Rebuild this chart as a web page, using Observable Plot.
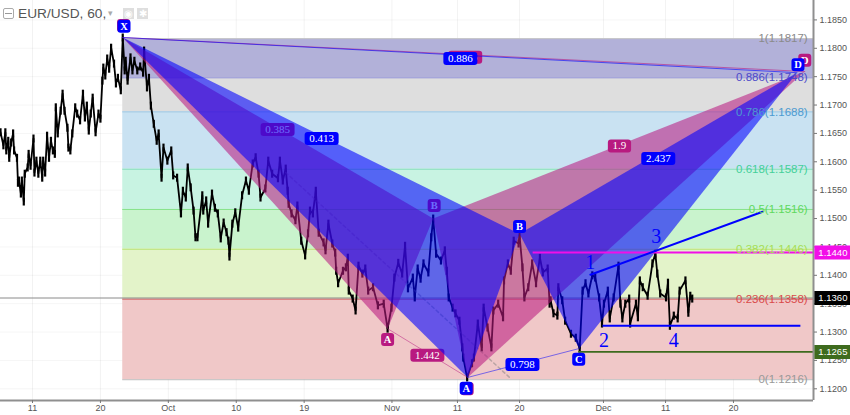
<!DOCTYPE html>
<html><head><meta charset="utf-8">
<script src="https://cdn.jsdelivr.net/npm/d3@7"></script>
<script src="https://cdn.jsdelivr.net/npm/@observablehq/plot@0.6"></script>
<style>
html,body{margin:0;padding:0;background:#fff;overflow:hidden}
#wrap{position:relative;width:850px;height:415px}
#chart svg{display:block}
#head{position:absolute;left:0;top:0;height:28px;width:160px;font:13.7px "Liberation Sans",sans-serif;color:#555}
#head span{position:absolute;white-space:nowrap}
.ic{background:#dedede;color:#fff;width:11px;height:11px;top:8px;font-size:10px;line-height:11px;text-align:center}
</style></head><body>
<div id="wrap"><div id="chart"></div>
<div id="head">
<span style="left:3px;top:8px;width:9px;height:9px;border:1px solid #aaa;border-radius:2px"></span>
<span style="left:5px;top:13px;width:7px;height:1px;background:#999"></span>
<span style="left:18px;top:6px">EUR/USD, 60,</span>
<span style="left:108px;top:8px;font-size:9px;color:#aaa">▾</span>
<span class="ic" style="left:123px">◉</span>
<span class="ic" style="left:137px">✱</span>
</div></div>
<script>
// x is counted in trading days from 11 Sep; y is EUR/USD.
const tickDays = [0, 7, 14, 21, 28, 37.05, 43.8, 50.2, 58.85, 65.25, 72.25];
const tickLabels = ["11", "20", "Oct", "10", "19", "Nov", "11", "20", "Dec", "11", "20"];
const priceTicks = [1.12,1.125,1.13,1.135,1.14,1.145,1.15,1.155,1.16,1.165,1.17,1.175,1.18,1.185];

const priceDays = [-3.3,-3,-2.8,-2.7,-2.5,-2.4,-2.2,-2,-1.9,-1.6,-1.5,-1.4,-1.2,-1.1,-.9,-.8,-.5,-.4,-.2,.1,.2,.4,.6,.8,1,1.1,1.3,1.5,1.7,1.9,2.1,2.3,2.4,2.6,2.9,3.1,3.3,3.6,3.7,3.9,4.1,4.4,4.6,4.9,5.2,5.4,5.6,5.8,6,6.2,6.5,6.8,7,7.2,7.3,7.5,7.7,7.9,8.1,8.4,8.6,8.8,9.1,9.3,9.5,9.6,9.8,10.1,10.3,10.5,10.8,11.1,11.4,11.5,11.8,12,12.2,12.5,12.8,13,13.3,13.5,13.9,14.3,14.5,14.9,15.3,15.5,15.8,16,16.3,16.6,16.8,17,17.5,17.6,17.9,18.1,18.5,18.8,19.1,19.4,19.7,20,20.2,20.3,20.6,20.9,21.2,21.6,22,22.3,22.7,23,23.3,23.5,24,24.3,24.7,25.3,25.5,25.8,26.1,26.3,26.4,26.7,27.1,27.3,27.7,28.1,28.4,28.6,28.9,29.2,29.5,30,30.2,30.5,30.9,31.2,31.3,31.5,32,32.3,32.5,32.6,33,33.3,33.6,34,34.3,34.6,35.1,35.6,36.2,36.6,37,37.3,37.7,38.1,38.4,38.7,39.2,39.4,39.7,40,40.3,40.8,41.1,41.3,41.6,42.1,42.5,42.7,42.9,43.3,43.6,44,44.3,44.4,44.8,45.3,45.5,45.9,46.3,46.5,46.9,47.3,47.5,48,48.5,48.6,49,49.3,49.6,50.1,50.2,50.5,50.7,51.1,51.5,51.9,52.3,52.6,53.1,53.3,53.4,53.7,54.1,54.2,54.6,54.9,55.5,56,56.4,56.7,57,57.3,57.7,58,58.4,58.7,58.9,59.3,59.5,59.9,60.4,60.6,60.8,61.1,61.5,61.6,62.2,62.4,62.6,62.9,63.4,63.9,64.2,64.4,64.7,65.3,65.5,65.7,66.1,66.5,66.7,67.3,67.6,67.8,68];
const pricePips = [11652,11629,11652,11620,11637,11607,11634,11650,11620,11607,11563,11567,11544,11567,11530,11579,11590,11614,11593,11641,11581,11602,11579,11602,11572,11602,11581,11646,11607,11637,11620,11614,11696,11650,11690,11720,11690,11660,11625,11620,11650,11696,11685,11673,11720,11678,11699,11655,11685,11713,11652,11685,11676,11743,11766,11752,11782,11764,11801,11773,11738,11748,11726,11819,11761,11778,11743,11784,11761,11778,11761,11768,11757,11796,11731,11748,11699,11667,11637,11650,11572,11625,11602,11620,11576,11572,11509,11549,11537,11590,11555,11514,11467,11467,11541,11514,11532,11491,11544,11519,11509,11465,11493,11476,11461,11433,11491,11511,11484,11541,11567,11549,11597,11608,11579,11537,11553,11602,11579,11571,11602,11567,11588,11549,11526,11509,11497,11523,11461,11435,11474,11514,11509,11549,11475,11458,11444,11491,11456,11440,11408,11386,11408,11414,11431,11373,11359,11338,11417,11403,11412,11373,11379,11347,11350,11306,11343,11396,11422,11403,11452,11377,11396,11361,11412,11394,11421,11405,11467,11500,11438,11426,11444,11408,11361,11343,11333,11320,11273,11255,11220,11245,11255,11315,11273,11343,11308,11273,11338,11350,11326,11391,11421,11408,11461,11456,11470,11414,11361,11379,11421,11386,11431,11405,11412,11350,11356,11333,11329,11379,11356,11320,11297,11290,11271,11373,11386,11368,11400,11396,11361,11315,11350,11373,11324,11361,11417,11350,11324,11350,11359,11315,11350,11326,11391,11379,11364,11421,11438,11403,11368,11361,11387,11311,11329,11324,11373,11391,11334,11364,11359];

const fibRatios = ["1","0.886","0.786","0.618","0.5","0.382","0.236","0"];
const fibPrices = [1.1817,1.1748,1.1688,1.1587,1.1516,1.1446,1.1358,1.1216];

const pinkDays = [9.3,36.6,41.3,44.85,79.6];
const pinkPrices = [1.1819,1.1306,1.15,1.122,1.1759];
const blueDays = [9.3,44.85,50.2,56.35,78.8];
const bluePrices = [1.1819,1.122,1.1473,1.1271,1.1757];

const ratioText = ["0.385","0.886","1.442","1.9","0.413","0.886","0.798","2.437"];
const ratioDays = [25.26,44.6,40.7,60.5,29.8,44.1,50.5,64.5];
const ratioPrices = [1.1657,1.1784,1.1259,1.1628,1.1641,1.1782,1.1243,1.1606];
const pinkRatioCount = 4;

const pointText = ["X","A","B","C","D","X","A","B","C","D"];
const pointDays = [9.38,36.6,41.4,44.8,79.6,9.43,44.7,50.2,56.3,78.9];
const pointPrices = [1.184,1.1287,1.1523,1.12,1.1779,1.1839,1.1201,1.1486,1.1252,1.1771];
const pinkPointCount = 5;

const waveText = ["1","2","3","4"];
const waveDays = [57.5,58.9,64.3,66.1];
const wavePrices = [1.1422,1.1285,1.1468,1.1285];

const trendDays = [57.5,75.25];
const trendPrices = [1.1401,1.1512];
const dashDays = [26.1,49.3];
const dashPrices = [1.1581,1.1218];
const supportDays = [58.8,79.2];
const supportPrice = 1.1311;
const resistanceStart = 51.6;
const resistancePrice = 1.144;
const floorStart = 56.3;
const floorPrice = 1.1265;
const lastPrice = 1.136;
const boxDay = 82.5;
const boxPrices = [1.144,1.136,1.1265];

const xMin = -3.3, xMax = 80.5, yMin = 1.11794, yMax = 1.18842;
const bandFill = ["#b2b1d9","#dedede","#c9e2f2","#c8f3e2","#c9f3cd","#e3f3c9","#f0c8c8"];
const fibStroke = ["#c8c8c8","#8d8dd6","#9cc6e0","#80dcb8","#86e28a","#b5e26a","#d06060","#bbbbbb"];
const fibText = ["#8a8a8a","#4c49c9","#4c9ad0","#45cf9a","#5fd85f","#a5dd55","#d94a4a","#999999"];
const boxFill = ["#f20ee8","#000000","#3e6b1e"];
const PINK = "#b81a80", BLUE = "#0000ff";

function box(w, h, r) {
  return {draw(c) {
    const x = w / 2, y = h / 2;
    c.moveTo(-x + r, -y);
    c.arcTo(x, -y, x, y, r);
    c.arcTo(x, y, -x, y, r);
    c.arcTo(-x, y, -x, -y, r);
    c.arcTo(-x, -y, x, -y, r);
    c.closePath();
  }};
}
const idx = a => a.map((_, i) => i);
const price = priceDays.map((d, i) => ({d, v: pricePips[i] / 10000}));
const tri = (days, prices, ids) => ids.map(i => ({x: days[i], y: prices[i]}));

function pattern(days, prices, col, o) {
  return [
    Plot.line([...tri(days, prices, [0,1,2]), tri(days, prices, [0])[0]], {x:"x", y:"y", fill:col, fillOpacity:o, stroke:"none"}),
    Plot.line([...tri(days, prices, [2,3,4]), tri(days, prices, [2])[0]], {x:"x", y:"y", fill:col, fillOpacity:o, stroke:"none"}),
    Plot.line(tri(days, prices, [0,4]), {x:"x", y:"y", stroke:col, strokeOpacity:.6, strokeWidth:1}),
    Plot.line(tri(days, prices, [1,3]), {x:"x", y:"y", stroke:col, strokeOpacity:.5, strokeWidth:1})
  ];
}
function tags(txt, days, prices, ids, col, size) {
  return [
    ...ids.map(i => Plot.dot([i], {x:j=>days[j], y:j=>prices[j], r:1, fill:col,
      symbol: size === "ratio" ? box(txt[i].length * 5.4 + 7, 13, 3) : box(13, 13, 3)})),
    Plot.text(ids, {x:j=>days[j], y:j=>prices[j], text:j=>txt[j], fill:"#fff", fontSize:size === "ratio" ? 11 : 10.5,
      fontFamily:"Liberation Serif", fontWeight:size === "ratio" ? 400 : 700})
  ];
}
const allRatio = idx(ratioText), allPoint = idx(pointText);

const plot = Plot.plot({
  width: 850, height: 415, marginTop: 0, marginLeft: 0, marginRight: 37, marginBottom: 15,
  style: {background: "#fff", fontFamily: "Liberation Sans"},
  x: {domain: [xMin, xMax], label: null},
  y: {domain: [yMin, yMax], label: null},
  marks: [
    Plot.gridX(tickDays, {stroke:"#000", strokeOpacity:.05}),
    Plot.gridY(priceTicks, {stroke:"#000", strokeOpacity:.04}),
    Plot.rect(idx(bandFill), {x1:pinkDays[0], x2:xMax, y1:i=>fibPrices[i], y2:i=>fibPrices[i+1], fill:i=>bandFill[i]}),
    Plot.ruleY(idx(fibPrices), {x1:pinkDays[0], x2:xMax, y:i=>fibPrices[i], stroke:i=>fibStroke[i], strokeWidth:1}),
    Plot.ruleY([lastPrice], {stroke:"#8a8a8a", strokeWidth:1}),
    Plot.line(price, {x:"d", y:"v", stroke:"#000", strokeWidth:1.8, curve:"linear"}),
    Plot.dot(price, {x:"d", y:"v", r:1, fill:"#000", symbol:box(2.2,8,0)}),
    Plot.line(dashDays.map((d,i)=>({x:d,y:dashPrices[i]})), {x:"x", y:"y", stroke:"#777", strokeOpacity:.45, strokeDasharray:"3,3"}),
    ...pattern(pinkDays, pinkPrices, PINK, .57),
    ...tags(ratioText, ratioDays, ratioPrices, allRatio.slice(0, pinkRatioCount), PINK, "ratio"),
    ...tags(pointText, pointDays, pointPrices, allPoint.slice(0, pinkPointCount), PINK, "point"),
    ...pattern(blueDays, bluePrices, BLUE, .58),
    Plot.ruleY([resistancePrice], {x1:resistanceStart, x2:xMax, stroke:"#f20ee8", strokeWidth:2}),
    Plot.ruleY([floorPrice], {x1:floorStart, x2:xMax, stroke:"#3e6b1e", strokeWidth:1.6}),
    Plot.ruleY([supportPrice], {x1:supportDays[0], x2:supportDays[1], stroke:BLUE, strokeWidth:2}),
    Plot.line(trendDays.map((d,i)=>({x:d,y:trendPrices[i]})), {x:"x", y:"y", stroke:BLUE, strokeWidth:2}),
    Plot.text(idx(waveText), {x:i=>waveDays[i], y:i=>wavePrices[i], text:i=>waveText[i], fill:BLUE, fontSize:20, fontFamily:"Liberation Serif"}),
    Plot.text(idx(fibRatios), {x:79.9, y:i=>fibPrices[i], text:i=>`${fibRatios[i]}(${fibPrices[i].toFixed(4)})`, fill:i=>fibText[i], fontSize:11.5, textAnchor:"end"}),
    ...tags(ratioText, ratioDays, ratioPrices, allRatio.slice(pinkRatioCount), BLUE, "ratio"),
    ...tags(pointText, pointDays, pointPrices, allPoint.slice(pinkPointCount), BLUE, "point"),
    Plot.ruleX([xMax], {stroke:"#8f8f8f", strokeWidth:2}),
    Plot.ruleY([yMin], {stroke:"#8f8f8f", strokeWidth:2}),
    Plot.axisY(priceTicks, {anchor:"right", label:null, tickFormat:d3.format(".4f"), tickSize:3, tickPadding:3, fontSize:9, stroke:"#777", color:"#555"}),
    Plot.axisX(tickDays, {anchor:"bottom", label:null, tickFormat:(d,i)=>tickLabels[i], tickSize:3, tickPadding:1, fontSize:9, stroke:"#777", color:"#555"}),
    ...boxPrices.map((p,i) => Plot.dot([p], {x:boxDay, y:d=>d, r:1, fill:boxFill[i], symbol:box(37,14,.5)})),
    Plot.text(boxPrices, {x:boxDay, y:d=>d, text:d=>d.toFixed(4), fill:"#fff", fontSize:9.5})
  ]
});
document.getElementById("chart").appendChild(plot);
</script></body></html>
